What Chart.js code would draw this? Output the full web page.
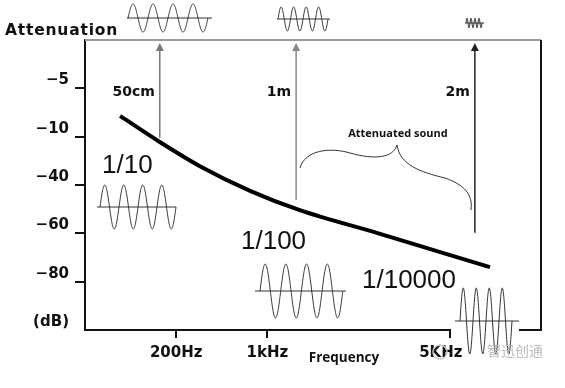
<!DOCTYPE html>
<html>
<head>
<meta charset="utf-8">
<script src="https://cdn.jsdelivr.net/npm/chart.js@4"></script>
<style>
  html, body { margin: 0; padding: 0; background: #fff; }
</style>
</head>
<body>
<canvas id="attChart" width="565" height="388"></canvas>
<script>
// frequency axis positions and labels
const freqTicks = [2, 4, 8];
const freqLabels = ['200Hz', '1kHz', '5KHz'];
// attenuation axis, top to bottom
const attTicks = [1, 2, 3, 4, 5, 6];
const attLabels = ['\u22125', '\u221210', '\u221240', '\u221260', '\u221280', '(dB)'];
// attenuation curve
const curveX = [0.77, 1.64, 2.52, 3.62, 4.71, 6.47, 7.79, 8.88];
const curveY = [1.57, 2.11, 2.61, 3.12, 3.52, 4.01, 4.39, 4.70];
// distances marked by arrows
const distLabels = ['50cm', '1m', '2m'];
const distX = [1.64, 4.63, 8.55];
const distFromY = [2.02, 3.31, 3.99];
// amplitude ratios
const ratioLabels = ['1/10', '1/100', '1/10000'];

// draw a little sine sketch with its centre line
function wave(ctx, x0, axisY, period, cycles, amp, lineFrom, lineTo) {
    ctx.save();
    ctx.strokeStyle = '#333';
    ctx.lineWidth = 1;
    ctx.beginPath();
    for (let i = 0; i <= cycles * period; i += 0.25) {
        const y = axisY - amp * Math.sin(2 * Math.PI * i / period);
        if (i === 0) ctx.moveTo(x0 + i, y); else ctx.lineTo(x0 + i, y);
    }
    ctx.stroke();
    ctx.beginPath();
    ctx.moveTo(lineFrom, axisY);
    ctx.lineTo(lineTo, axisY);
    ctx.stroke();
    ctx.restore();
}

function arrow(ctx, x, yFrom, yTo, color, width) {
    ctx.save();
    ctx.strokeStyle = color;
    ctx.fillStyle = color;
    ctx.lineWidth = width;
    ctx.beginPath();
    ctx.moveTo(x, yFrom);
    ctx.lineTo(x, yTo + 6);
    ctx.stroke();
    ctx.beginPath();
    ctx.moveTo(x, yTo);
    ctx.lineTo(x - 4, yTo + 8);
    ctx.lineTo(x + 4, yTo + 8);
    ctx.closePath();
    ctx.fill();
    ctx.restore();
}

function text(ctx, str, x, y, font, align, color, spacing) {
    ctx.save();
    ctx.font = font;
    ctx.textAlign = align || 'left';
    ctx.textBaseline = 'middle';
    ctx.fillStyle = color || '#111';
    if (spacing) ctx.letterSpacing = spacing;
    ctx.fillText(str, x, y);
    ctx.restore();
}

const decorations = {
    id: 'decorations',
    afterDraw(chart) {
        const ctx = chart.ctx;
        const xs = chart.scales.x, ys = chart.scales.y;
        const area = chart.chartArea;

        // frame: grey top, black right side
        ctx.save();
        ctx.strokeStyle = '#999';
        ctx.lineWidth = 2;
        ctx.beginPath();
        ctx.moveTo(area.left, area.top);
        ctx.lineTo(area.right, area.top);
        ctx.stroke();
        ctx.strokeStyle = '#111';
        ctx.beginPath();
        ctx.moveTo(area.right, area.top);
        ctx.lineTo(area.right, area.bottom + 1);
        ctx.stroke();
        ctx.restore();

        // frequency labels (last one sits a bit left of its tick)
        freqTicks.forEach((v, i) => {
            const shift = i === freqTicks.length - 1 ? -9 : 0;
            text(ctx, freqLabels[i], xs.getPixelForValue(v) + shift, area.bottom + 23,
                'bold 15px "DejaVu Sans"', 'center');
        });

        // distance arrows
        const arrowColors = ['#777', '#888', '#222'];
        distX.forEach((v, i) => {
            const px = xs.getPixelForValue(v);
            arrow(ctx, px, ys.getPixelForValue(distFromY[i]), area.top + 3, arrowColors[i], 1.5);
            text(ctx, distLabels[i], px - 5, 92, 'bold 14px "DejaVu Sans"', 'right');
        });

        // waves above the plot
        wave(ctx, 128, 18, 20, 4, 14, 127, 212);
        wave(ctx, 278, 19, 12.5, 4, 12, 277, 330);
        wave(ctx, 466, 23, 4, 4, 5, 465, 484);

        // waves inside the plot
        wave(ctx, 100, 207, 19, 4, 22, 97, 176);
        wave(ctx, 260, 291, 20.7, 4, 27, 255, 346);
        ctx.save();
        ctx.fillStyle = '#fff';
        ctx.fillRect(451, 322, 68, 14);
        ctx.restore();
        wave(ctx, 460, 321, 13, 4, 33, 455, 519);

        // ratio labels
        const ratioFont = '26px "Liberation Sans"';
        text(ctx, ratioLabels[0], 102, 166, ratioFont);
        text(ctx, ratioLabels[1], 241, 242, ratioFont);
        text(ctx, ratioLabels[2], 362, 281, ratioFont);

        // brace over the attenuated part
        ctx.save();
        ctx.strokeStyle = '#333';
        ctx.lineWidth = 1;
        ctx.beginPath();
        ctx.moveTo(300, 168);
        ctx.bezierCurveTo(305, 150, 330, 147, 350, 153);
        ctx.bezierCurveTo(375, 160, 393, 158, 397, 145);
        ctx.moveTo(397, 145);
        ctx.bezierCurveTo(400, 165, 420, 172, 445, 178);
        ctx.bezierCurveTo(465, 185, 473, 195, 471, 210);
        ctx.stroke();
        ctx.restore();
        text(ctx, 'Attenuated sound', 398, 134, 'bold 11px "Open Sans"', 'center');

        // axis titles
        text(ctx, 'Attenuation', 5, 31, 'bold 15.5px "DejaVu Sans"', 'left', '#111', '0.8px');
        text(ctx, 'Frequency', 344, 358, 'bold 13.5px "Open Sans"', 'center');

        // watermark
        ctx.save();
        ctx.strokeStyle = '#ccc';
        ctx.lineWidth = 1.5;
        ctx.beginPath();
        ctx.arc(440, 352, 7, 0, Math.PI * 2);
        ctx.stroke();
        ctx.restore();
        text(ctx, '智迅创通', 487, 351, '14px "Noto Sans CJK SC"', 'left', '#bbb');
    }
};

const ctx = document.getElementById('attChart').getContext('2d');
new Chart(ctx, {
    type: 'line',
    data: {
        datasets: [{
            data: curveX.map((x, i) => ({ x: x, y: curveY[i] })),
            borderColor: '#000',
            borderWidth: 4,
            pointRadius: 0,
            cubicInterpolationMode: 'monotone',
            fill: false
        }]
    },
    options: {
        responsive: false,
        animation: false,
        layout: { padding: { left: 0, top: 40, right: 24, bottom: 0 } },
        plugins: { legend: { display: false }, tooltip: { enabled: false } },
        scales: {
            x: {
                type: 'linear',
                min: 0,
                max: 10,
                afterBuildTicks: scale => { scale.ticks = freqTicks.map(v => ({ value: v })); },
                afterFit: scale => { scale.height = 58; },
                border: { color: '#111', width: 2 },
                grid: { drawOnChartArea: false, color: '#111', lineWidth: 2, tickLength: 8 },
                ticks: { display: false }
            },
            y: {
                type: 'linear',
                min: 0,
                max: 6,
                reverse: true,
                afterBuildTicks: scale => { scale.ticks = attTicks.map(v => ({ value: v })); },
                afterFit: scale => { scale.width = 85; },
                border: { color: '#111', width: 2 },
                grid: {
                    drawOnChartArea: false,
                    lineWidth: 2,
                    tickLength: 10,
                    color: c => (c.tick && c.tick.value === 6 ? 'rgba(0,0,0,0)' : '#111')
                },
                ticks: {
                    color: '#111',
                    font: { family: 'DejaVu Sans', weight: 'bold', size: 15 },
                    padding: 6,
                    labelOffset: -8,
                    callback: v => attLabels[attTicks.indexOf(v)]
                }
            }
        }
    },
    plugins: [decorations]
});
</script>
</body>
</html>
